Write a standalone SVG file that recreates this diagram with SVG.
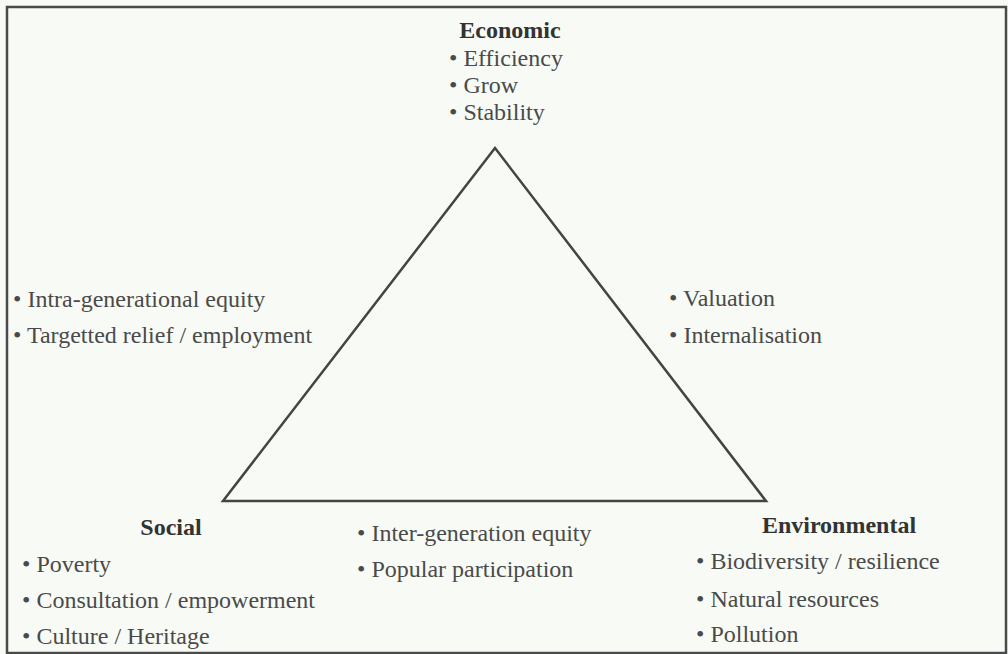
<svg xmlns="http://www.w3.org/2000/svg" width="1008" height="654" viewBox="0 0 1008 654">
  <style>
    text { font-family: "Liberation Serif", "Times New Roman", serif; font-size: 24px; fill: #4a4a4a; }
    .head { font-weight: bold; fill: #333333; }
    .frame { fill: #f8fbf5; stroke: #4a4a4a; stroke-width: 2.5; }
    .edge { fill: none; stroke: #444444; stroke-width: 2.5; stroke-linejoin: miter; }
  </style>
  <rect width="1008" height="654" fill="#f8fbf5"/>
  <rect class="frame" x="7" y="7" width="999" height="646"/>

  <g id="connectors">
    <polygon class="edge" points="495,148 223,501 766,501"/>
  </g>

  <g id="economic">
    <text class="head" x="510" y="38" text-anchor="middle">Economic</text>
    <text x="449" y="66">• Efficiency</text>
    <text x="449" y="93">• Grow</text>
    <text x="449" y="120">• Stability</text>
  </g>

  <g id="social-economic">
    <text x="13" y="307">• Intra-generational equity</text>
    <text x="13" y="343">• Targetted relief / employment</text>
  </g>

  <g id="economic-environmental">
    <text x="669" y="306">• Valuation</text>
    <text x="669" y="343">• Internalisation</text>
  </g>

  <g id="social">
    <text class="head" x="171" y="535" text-anchor="middle">Social</text>
    <text x="22" y="572">• Poverty</text>
    <text x="22" y="608">• Consultation / empowerment</text>
    <text x="22" y="644">• Culture / Heritage</text>
  </g>

  <g id="social-environmental">
    <text x="357" y="541">• Inter-generation equity</text>
    <text x="357" y="577">• Popular participation</text>
  </g>

  <g id="environmental">
    <text class="head" x="839" y="533" text-anchor="middle">Environmental</text>
    <text x="696" y="569">• Biodiversity / resilience</text>
    <text x="696" y="607">• Natural resources</text>
    <text x="696" y="642">• Pollution</text>
  </g>
</svg>
